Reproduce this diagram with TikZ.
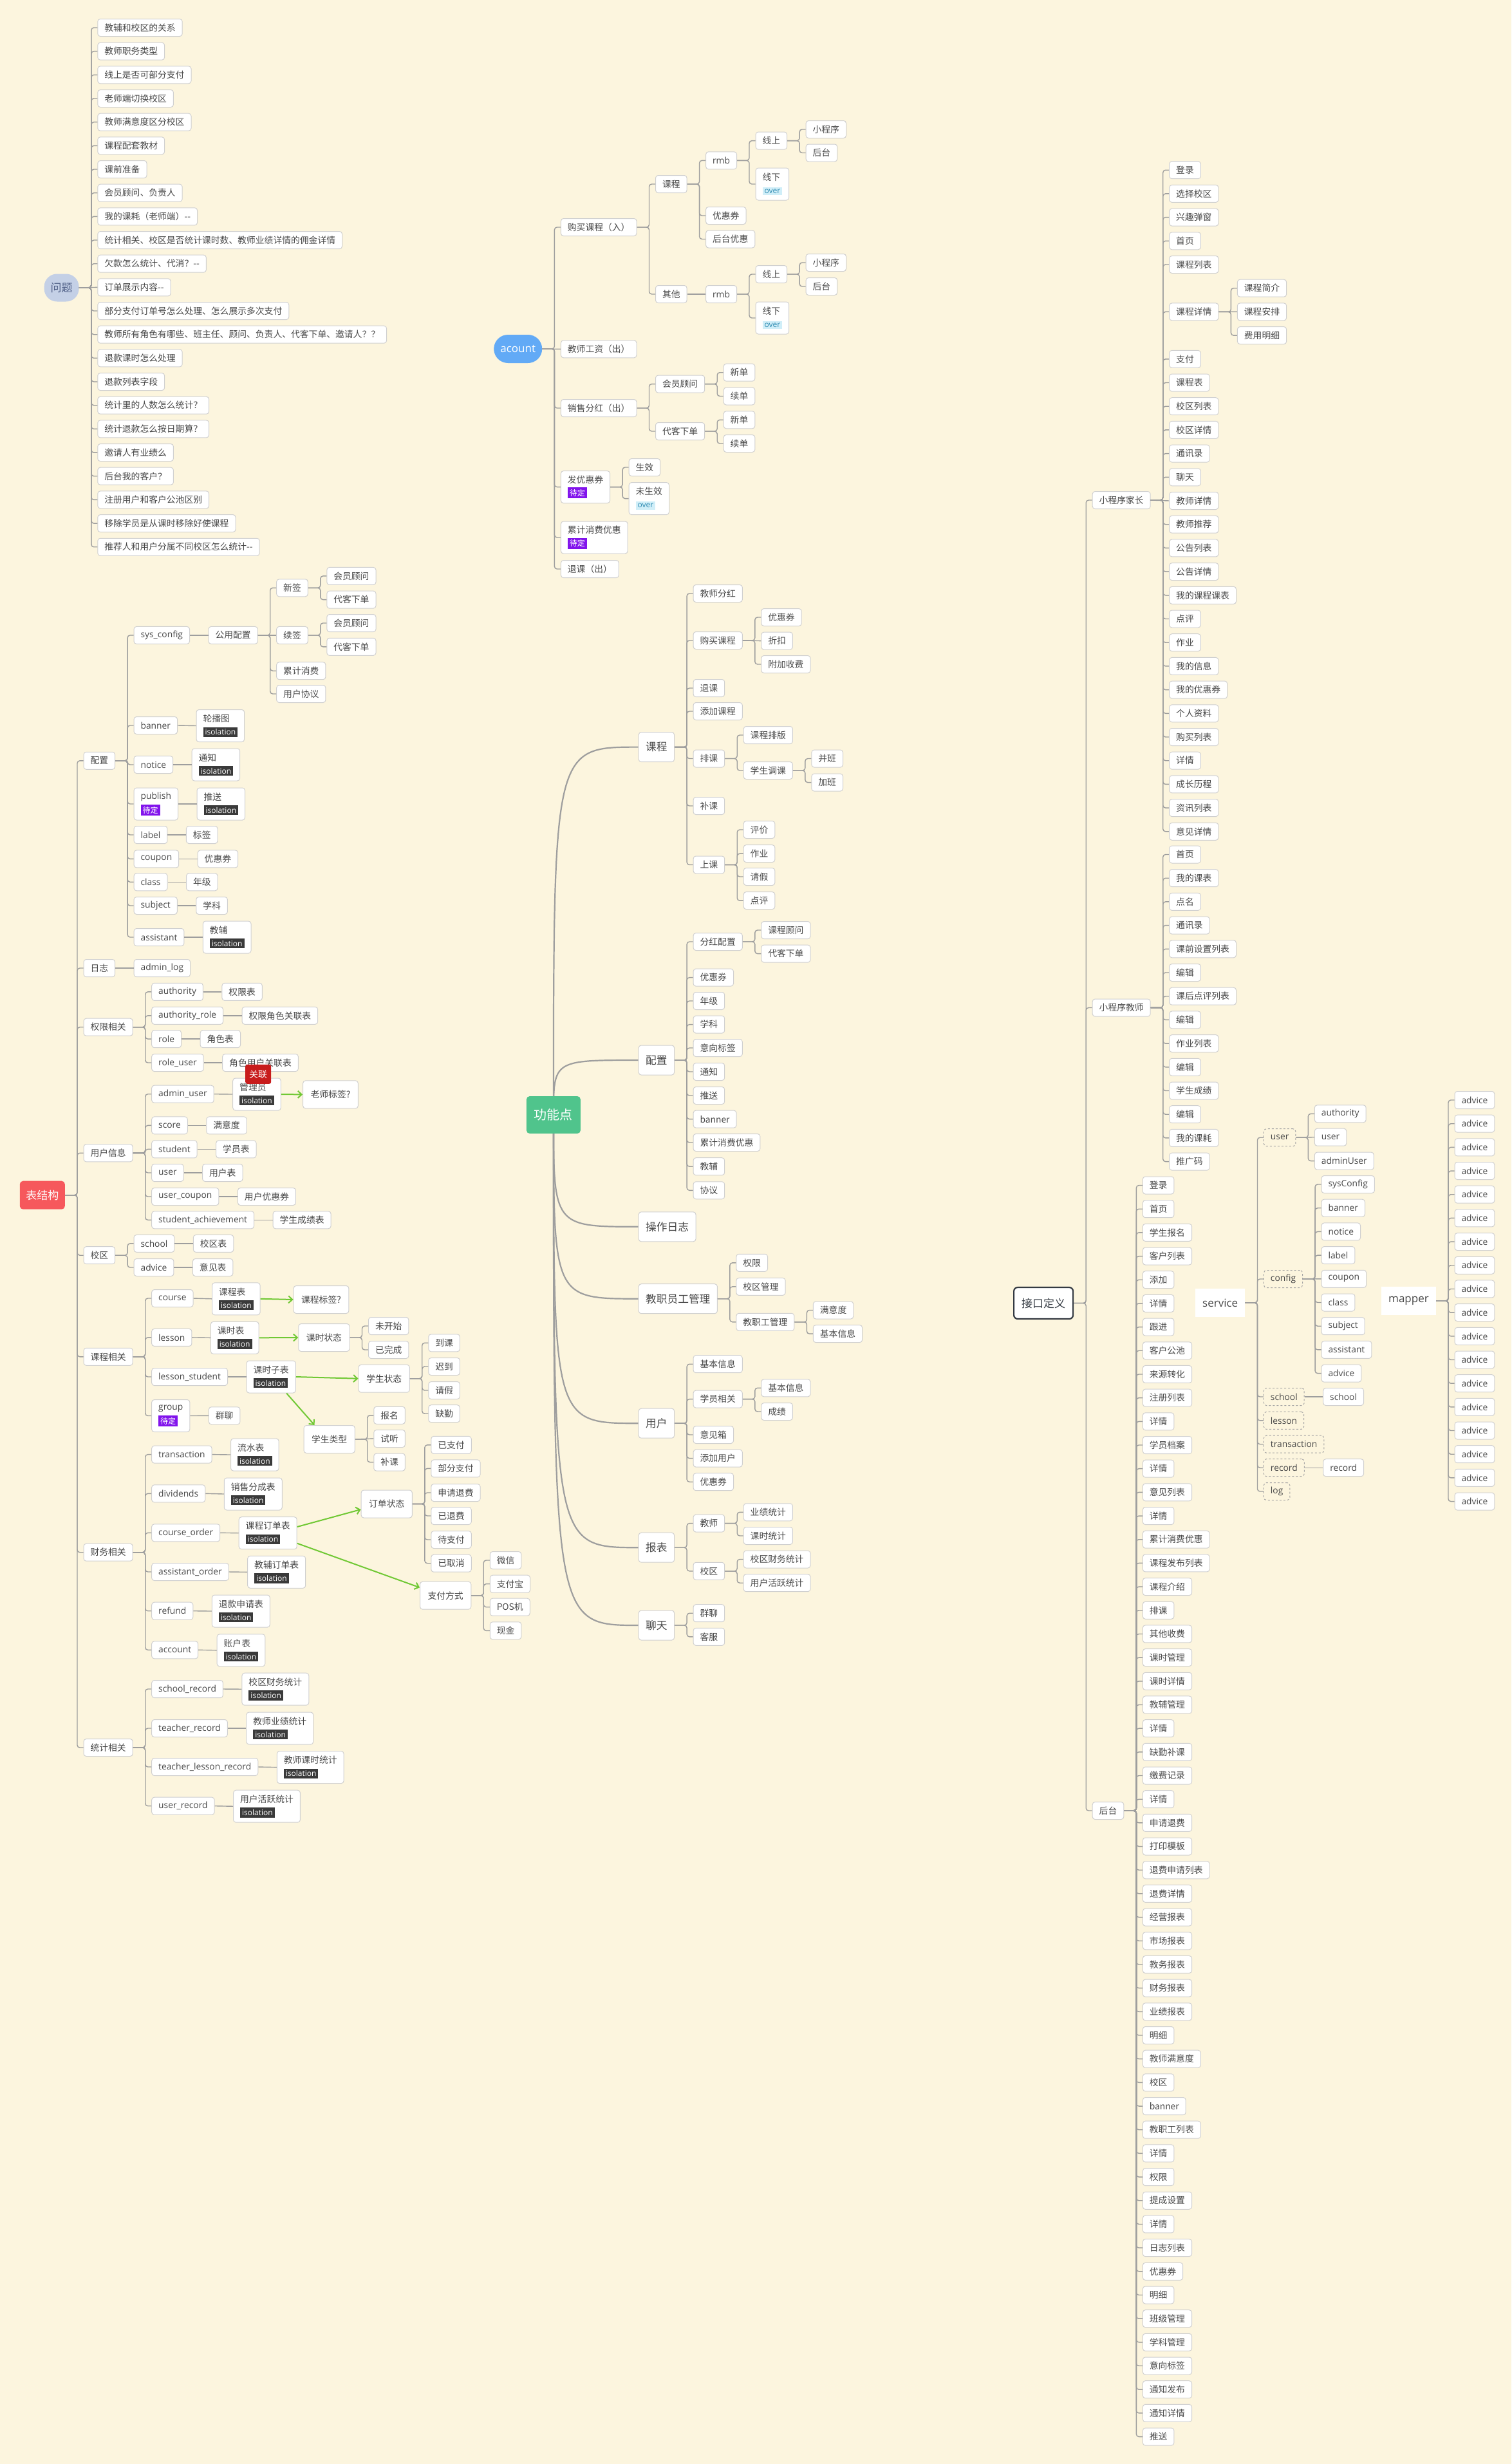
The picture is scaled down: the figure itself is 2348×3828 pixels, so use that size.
\documentclass[tikz,border=0pt]{standalone}
\usepackage{fontspec}
\newfontfamily\cjk{Noto Sans CJK SC}
\newfontfamily\lat{Open Sans}
\usetikzlibrary{arrows.meta}
\pgfdeclarelayer{background}
\pgfsetlayers{background,main}
\definecolor{bgc}{RGB}{252,245,222}
\definecolor{bordc}{RGB}{208,208,208}
\definecolor{linec}{RGB}{158,158,158}
\definecolor{textc}{RGB}{72,72,72}
\definecolor{qfill}{RGB}{196,208,230}
\definecolor{qtext}{RGB}{80,96,135}
\definecolor{acblue}{RGB}{98,170,246}
\definecolor{gdgreen}{RGB}{80,196,140}
\definecolor{tred}{RGB}{246,88,92}
\definecolor{isodark}{RGB}{58,58,58}
\definecolor{tagpurple}{RGB}{130,20,236}
\definecolor{overbg}{RGB}{208,238,248}
\definecolor{overtext}{RGB}{48,140,178}
\definecolor{arrgreen}{RGB}{112,200,52}
\definecolor{relred}{RGB}{200,28,28}
\definecolor{jdark}{RGB}{52,58,66}
\definecolor{dashc}{RGB}{165,165,165}
\newcommand\isotag{{\setlength{\fboxsep}{3pt}\colorbox{isodark}{\lat\fontsize{12}{13}\selectfont\textcolor{white}{isolation}}}}
\newcommand\pendtag{{\setlength{\fboxsep}{3pt}\colorbox{tagpurple}{\cjk\fontsize{12}{13}\selectfont\textcolor{white}{待定}}}}
\newcommand\overtag{{\setlength{\fboxsep}{3pt}\colorbox{overbg}{\lat\fontsize{12}{13}\selectfont\textcolor{overtext}{over}}}}
\newcommand\lk[2]{%
  \path (#1.east); \pgfgetlastxy{\lkpx}{\lkpy}%
  \path (#2.west); \pgfgetlastxy{\lkcx}{\lkcy}%
  \pgfmathsetmacro\lkd{abs((\lkpy)-(\lkcy))}%
  \ifdim\lkd pt<2.5pt
    \draw[conn] (#1.east) -- (#2.west);
  \else
    \draw[conn] (#2.west) -- ++(-9.5,0) |- (#1.east);
  \fi}
\newcommand\rn[6][]{%
  \path (#2.east); \pgfgetlastxy{\rnx}{\rny}%
  \node[nbox,#1] (#3) at ({\rnx+#4pt},{-(#5)*1pt}) {#6};}
\newcommand\ch[5][]{\rn[#1]{#2}{#3}{28.5}{#4}{#5}\lk{#2}{#3}}
\begin{document}
\begin{tikzpicture}[x=1pt,y=-1pt,
  nbox/.style={draw=bordc, line width=1pt, fill=white, rounded corners=4pt, text=textc,
    font=\cjk\fontsize{13.8}{16}\selectfont, inner xsep=10.5pt, inner ysep=0pt,
    minimum height=27pt, anchor=west},
  latf/.style={font=\lat\fontsize{13.8}{16}\selectfont},
  tw/.style={align=left, inner ysep=4pt, minimum height=50pt},
  tall/.style={minimum height=43pt, inner xsep=12pt},
  big/.style={nbox, font=\cjk\fontsize{16.7}{20}\selectfont, minimum height=46pt, inner xsep=11pt},
  dbox/.style={dashed, draw=dashc, fill=none},
  conn/.style={draw=linec, line width=1.4pt, rounded corners=4pt},
  fcurve/.style={draw=linec, line width=2.2pt},
  garrow/.style={draw=arrgreen, line width=2pt, -{Straight Barb[length=6pt,width=11pt]}},
  qmain/.style={fill=qfill, text=qtext, rounded corners=20pt, minimum width=54pt, minimum height=43pt,
    font=\cjk\fontsize{17}{20}\selectfont, inner sep=0pt, anchor=west},
  amain/.style={fill=acblue, text=white, rounded corners=22pt, minimum width=75pt, minimum height=44pt,
    font=\lat\fontsize{17}{20}\selectfont, inner sep=0pt, anchor=west},
  gmain/.style={fill=gdgreen, text=white, rounded corners=5pt, minimum width=84pt, minimum height=58pt,
    font=\cjk\fontsize{20}{24}\selectfont, inner sep=0pt, anchor=west},
  tmain/.style={fill=tred, text=white, rounded corners=5pt, minimum width=70pt, minimum height=44pt,
    font=\cjk\fontsize{17}{20}\selectfont, inner sep=0pt, anchor=west},
  jmain/.style={fill=white, draw=jdark, line width=2.2pt, text=jdark, rounded corners=6pt, minimum width=92pt,
    minimum height=49pt, font=\cjk\fontsize{17}{20}\selectfont, inner sep=0pt, anchor=west},
  flt/.style={fill=white, text=textc, font=\lat\fontsize{17}{20}\selectfont, inner xsep=11pt, inner ysep=0pt,
    minimum height=44.5pt, anchor=west},
  relt/.style={fill=relred, text=white, rounded corners=3pt, font=\cjk\fontsize{14}{14}\selectfont,
    minimum width=40pt, minimum height=30pt, inner sep=0pt}
]
\useasboundingbox (0,0) rectangle (2348,3828);
\begin{pgfonlayer}{background}
\fill[bgc] (0,0) rectangle (2348,3828);
\end{pgfonlayer}

% ===== 问题 =====
\node[qmain] (q0) at (68.4,447) {问题};
\foreach \t [count=\i] in {教辅和校区的关系,教师职务类型,线上是否可部分支付,老师端切换校区,教师满意度区分校区,课程配套教材,课前准备,会员顾问、负责人,我的课耗（老师端）-{}-,统计相关、校区是否统计课时数、教师业绩详情的佣金详情,欠款怎么统计、代消？-{}-,订单展示内容-{}-,部分支付订单号怎么处理、怎么展示多次支付,教师所有角色有哪些、班主任、顾问、负责人、代客下单、邀请人？？,退款课时怎么处理,退款列表字段,统计里的人数怎么统计？,统计退款怎么按日期算？,邀请人有业绩么,后台我的客户？,注册用户和客户公池区别,移除学员是从课时移除好使课程,推荐人和用户分属不同校区怎么统计-{}-}{
  \pgfmathsetmacro\yy{43+(\i-1)*36.67}
  \ch{q0}{q\i}{\yy}{\t}
}

% ===== acount =====
\node[amain] (a0) at (767,542) {acount};
\ch{a0}{a1}{353}{购买课程（入）}
\ch{a0}{a2}{542.3}{教师工资（出）}
\ch{a0}{a3}{634}{销售分红（出）}
\ch[tw]{a0}{a4}{756.6}{发优惠券\\[4pt]\pendtag}
\ch[tw]{a0}{a5}{835}{累计消费优惠\\[4pt]\pendtag}
\ch{a0}{a6}{884}{退课（出）}
\ch{a1}{a11}{286}{课程}
\ch{a1}{a12}{457}{其他}
\ch[latf]{a11}{a111}{249.3}{rmb}
\ch{a11}{a112}{335}{优惠券}
\ch{a11}{a113}{371.5}{后台优惠}
\ch{a111}{a1111}{218.6}{线上}
\ch[tw]{a111}{a1112}{286}{线下\\[4pt]\overtag}
\ch{a1111}{a11111}{201}{小程序}
\ch{a1111}{a11112}{237.5}{后台}
\ch[latf]{a12}{a121}{457}{rmb}
\ch{a121}{a1211}{426}{线上}
\ch[tw]{a121}{a1212}{494}{线下\\[4pt]\overtag}
\ch{a1211}{a12111}{408}{小程序}
\ch{a1211}{a12112}{445}{后台}
\ch{a3}{a31}{596.6}{会员顾问}
\ch{a3}{a32}{670}{代客下单}
\ch{a31}{a311}{578.7}{新单}
\ch{a31}{a312}{615.5}{续单}
\ch{a32}{a321}{652.3}{新单}
\ch{a32}{a322}{689}{续单}
\ch{a4}{a41}{726}{生效}
\ch[tw]{a4}{a42}{774.6}{未生效\\[4pt]\overtag}

% ===== 接口定义 =====
\node[jmain] (j0) at (1574,2024.5) {接口定义};
\ch{j0}{j1}{777}{小程序家长}
\ch{j0}{j2}{1565.5}{小程序教师}
\ch{j0}{j3}{2813}{后台}
\foreach \k/\t in {0/登录,1/选择校区,2/兴趣弹窗,3/首页,4/课程列表,6/课程详情,8/支付,9/课程表,10/校区列表,11/校区详情,12/通讯录,13/聊天,14/教师详情,15/教师推荐,16/公告列表,17/公告详情,18/我的课程课表,19/点评,20/作业,21/我的信息,22/我的优惠券,23/个人资料,24/购买列表,25/详情,26/成长历程,27/资讯列表,28/意见详情}{
  \pgfmathsetmacro\yy{264.2+\k*36.7}
  \ch{j1}{ja\k}{\yy}{\t}
}
\ch{ja6}{jb1}{447.7}{课程简介}
\ch{ja6}{jb2}{484.4}{课程安排}
\ch{ja6}{jb3}{521.1}{费用明细}
\foreach \t [count=\i from 0] in {首页,我的课表,点名,通讯录,课前设置列表,编辑,课后点评列表,编辑,作业列表,编辑,学生成绩,编辑,我的课耗,推广码}{
  \pgfmathsetmacro\yy{1327.5+\i*36.7}
  \ch{j2}{jc\i}{\yy}{\t}
}
\foreach \t [count=\i from 0] in {登录,首页,学生报名,客户列表,添加,详情,跟进,客户公池,来源转化,注册列表,详情,学员档案,详情,意见列表,详情,累计消费优惠,课程发布列表,课程介绍,排课,其他收费,课时管理,课时详情,教辅管理,详情,缺勤补课,缴费记录,详情,申请退费,打印模板,退费申请列表,退费详情,经营报表,市场报表,教务报表,财务报表,业绩报表,明细,教师满意度,校区,banner,教职工列表,详情,权限,提成设置,详情,日志列表,优惠券,明细,班级管理,学科管理,意向标签,通知发布,通知详情,推送}{
  \pgfmathsetmacro\yy{1841.5+\i*36.68}
  \ch{j3}{jd\i}{\yy}{\t}
}

% ===== service =====
\node[flt] (sv) at (1857,2024) {service};
\ch[latf,dbox]{sv}{s1}{1767.2}{user}
\ch[latf,dbox]{sv}{s2}{1987}{config}
\ch[latf,dbox]{sv}{s3}{2170}{school}
\ch[latf,dbox]{sv}{s4}{2206.9}{lesson}
\ch[latf,dbox]{sv}{s5}{2243.7}{transaction}
\ch[latf,dbox]{sv}{s6}{2280.2}{record}
\ch[latf,dbox]{sv}{s7}{2317}{log}
\ch[latf]{s1}{s11}{1730.3}{authority}
\ch[latf]{s1}{s12}{1766.7}{user}
\ch[latf]{s1}{s13}{1803.6}{adminUser}
\foreach \t [count=\i from 0] in {sysConfig,banner,notice,label,coupon,class,subject,assistant,advice}{
  \pgfmathsetmacro\yy{1840+\i*36.7}
  \ch[latf]{s2}{s2\i}{\yy}{\t}
}
\ch[latf]{s3}{s31}{2170}{school}
\ch[latf]{s6}{s61}{2280.2}{record}

% ===== mapper =====
\node[flt] (mp) at (2146,2021) {mapper};
\foreach \i in {0,...,17}{
  \pgfmathsetmacro\yy{1709+\i*36.68}
  \ch[latf]{mp}{m\i}{\yy}{advice}
}

% ===== 功能点 =====
\node[gmain] (g0) at (817.7,1732) {功能点};
\node[big] (g1) at (991.7,1160.6) {课程};
\node[big] (g2) at (991.7,1647) {配置};
\node[big] (g3) at (991.7,1905.8) {操作日志};
\node[big] (g4) at (991.7,2017.7) {教职员工管理};
\node[big] (g5) at (991.7,2211.2) {用户};
\node[big] (g6) at (991.7,2404.2) {报表};
\node[big] (g7) at (991.7,2525) {聊天};
\begin{pgfonlayer}{background}
\draw[fcurve] (g0.center) .. controls (g0.center |- g1.west) .. (g1.west);
\draw[fcurve] (g0.center) .. controls (g0.center |- g2.west) .. (g2.west);
\draw[fcurve] (g0.center) .. controls (g0.center |- g3.west) .. (g3.west);
\draw[fcurve] (g0.center) .. controls (g0.center |- g4.west) .. (g4.west);
\draw[fcurve] (g0.center) .. controls (g0.center |- g5.west) .. (g5.west);
\draw[fcurve] (g0.center) .. controls (g0.center |- g6.west) .. (g6.west);
\draw[fcurve] (g0.center) .. controls (g0.center |- g7.west) .. (g7.west);
\end{pgfonlayer}
\ch{g1}{g11}{922}{教师分红}
\ch{g1}{g12}{995}{购买课程}
\ch{g1}{g13}{1069}{退课}
\ch{g1}{g14}{1105}{添加课程}
\ch{g1}{g15}{1178.5}{排课}
\ch{g1}{g16}{1252}{补课}
\ch{g1}{g17}{1343.5}{上课}
\ch{g12}{g121}{959}{优惠券}
\ch{g12}{g122}{995.6}{折扣}
\ch{g12}{g123}{1032}{附加收费}
\ch{g15}{g151}{1142}{课程排版}
\ch{g15}{g152}{1197}{学生调课}
\ch{g152}{g1521}{1178.5}{并班}
\ch{g152}{g1522}{1215.6}{加班}
\ch{g17}{g171}{1289}{评价}
\ch{g17}{g172}{1326.1}{作业}
\ch{g17}{g173}{1362}{请假}
\ch{g17}{g174}{1399.1}{点评}
\ch{g2}{g21}{1463}{分红配置}
\ch{g2}{g22}{1518.6}{优惠券}
\ch{g2}{g23}{1555}{年级}
\ch{g2}{g24}{1591.6}{学科}
\ch{g2}{g25}{1628}{意向标签}
\ch{g2}{g26}{1665}{通知}
\ch{g2}{g27}{1702}{推送}
\ch{g2}{g28}{1738.6}{banner}
\ch{g2}{g29}{1775}{累计消费优惠}
\ch{g2}{g2a}{1812.2}{教辅}
\ch{g2}{g2b}{1849.3}{协议}
\ch{g21}{g211}{1445}{课程顾问}
\ch{g21}{g212}{1481.6}{代客下单}
\ch{g4}{g41}{1961.8}{权限}
\ch{g4}{g42}{1998.9}{校区管理}
\ch{g4}{g43}{2053.8}{教职工管理}
\ch{g43}{g431}{2035.5}{满意度}
\ch{g43}{g432}{2072.1}{基本信息}
\ch{g5}{g51}{2119.2}{基本信息}
\ch{g5}{g52}{2173.6}{学员相关}
\ch{g5}{g53}{2229}{意见箱}
\ch{g5}{g54}{2265.6}{添加用户}
\ch{g5}{g55}{2302.2}{优惠券}
\ch{g52}{g521}{2156.3}{基本信息}
\ch{g52}{g522}{2193}{成绩}
\ch{g6}{g61}{2366.6}{教师}
\ch{g6}{g62}{2440.8}{校区}
\ch{g61}{g611}{2349.3}{业绩统计}
\ch{g61}{g612}{2386}{课时统计}
\ch{g62}{g621}{2422.5}{校区财务统计}
\ch{g62}{g622}{2459.2}{用户活跃统计}
\ch{g7}{g71}{2506.2}{群聊}
\ch{g7}{g72}{2542.8}{客服}

% ===== 表结构 =====
\node[tmain] (t0) at (30.6,1856.7) {表结构};
\ch{t0}{t1}{1181.8}{配置}
\ch{t0}{t2}{1504}{日志}
\ch{t0}{t3}{1595.7}{权限相关}
\ch{t0}{t4}{1791.3}{用户信息}
\ch{t0}{t5}{1950.2}{校区}
\ch{t0}{t6}{2107.8}{课程相关}
\ch{t0}{t7}{2411.7}{财务相关}
\ch{t0}{t8}{2715}{统计相关}
% 配置
\ch[latf]{t1}{t11}{986.9}{sys\_config}
\ch[latf]{t1}{t12}{1127}{banner}
\ch[latf]{t1}{t13}{1188}{notice}
\ch[latf,tw]{t1}{t14}{1249}{publish\\[4pt]\pendtag}
\ch[latf]{t1}{t15}{1297}{label}
\ch[latf]{t1}{t16}{1334.4}{coupon}
\ch[latf]{t1}{t17}{1370.3}{class}
\ch[latf]{t1}{t18}{1407}{subject}
\ch[latf]{t1}{t19}{1456}{assistant}
\ch{t11}{t111}{986.9}{公用配置}
\ch{t111}{t1111}{913.3}{新签}
\ch{t111}{t1112}{986.9}{续签}
\ch{t111}{t1113}{1042.2}{累计消费}
\ch{t111}{t1114}{1078}{用户协议}
\ch{t1111}{t11111}{894.9}{会员顾问}
\ch{t1111}{t11112}{931.6}{代客下单}
\ch{t1112}{t11121}{968}{会员顾问}
\ch{t1112}{t11122}{1004.8}{代客下单}
\ch[tw]{t12}{t121}{1127.5}{轮播图\\[4pt]\isotag}
\ch[tw]{t13}{t131}{1188}{通知\\[4pt]\isotag}
\ch[tw]{t14}{t141}{1249}{推送\\[4pt]\isotag}
\ch{t15}{t151}{1297}{标签}
\ch{t16}{t161}{1334.4}{优惠券}
\ch{t17}{t171}{1370.3}{年级}
\ch{t18}{t181}{1407}{学科}
\ch[tw]{t19}{t191}{1456}{教辅\\[4pt]\isotag}
% 日志
\ch[latf]{t2}{t21}{1504}{admin\_log}
% 权限相关
\ch[latf]{t3}{t31}{1540.9}{authority}
\ch[latf]{t3}{t32}{1577.8}{authority\_role}
\ch[latf]{t3}{t33}{1614.1}{role}
\ch[latf]{t3}{t34}{1651}{role\_user}
\ch{t31}{t311}{1540.9}{权限表}
\ch{t32}{t321}{1577.8}{权限角色关联表}
\ch{t33}{t331}{1614.1}{角色表}
\ch{t34}{t341}{1651}{角色用户关联表}
% 用户信息
\ch[latf]{t4}{t41}{1699.7}{admin\_user}
\ch[latf]{t4}{t42}{1748.4}{score}
\ch[latf]{t4}{t43}{1785.4}{student}
\ch[latf]{t4}{t44}{1822}{user}
\ch[latf]{t4}{t45}{1859}{user\_coupon}
\ch[latf]{t4}{t46}{1895.3}{student\_achievement}
\ch[tw]{t41}{t411}{1700}{管理员\\[4pt]\isotag}
\rn[tall]{t411}{t4111}{33.3}{1700.4}{老师标签?}
\draw[garrow] (t411.east) -- (t4111.west);
\node[relt] (gl) at ([xshift=40pt,yshift=5.7pt]t411.north west) {关联};
\ch{t42}{t421}{1748.4}{满意度}
\ch{t43}{t431}{1785.4}{学员表}
\ch{t44}{t441}{1822}{用户表}
\ch{t45}{t451}{1859}{用户优惠券}
\ch{t46}{t461}{1895.3}{学生成绩表}
% 校区
\ch[latf]{t5}{t51}{1931.9}{school}
\ch[latf]{t5}{t52}{1969}{advice}
\ch{t51}{t511}{1931.9}{校区表}
\ch{t52}{t521}{1969}{意见表}
% 课程相关
\ch[latf]{t6}{t61}{2017}{course}
\ch[latf]{t6}{t62}{2077.9}{lesson}
\ch[latf]{t6}{t63}{2139}{lesson\_student}
\ch[latf,tw]{t6}{t64}{2199.5}{group\\[4pt]\pendtag}
\ch[tw]{t61}{t611}{2017.8}{课程表\\[4pt]\isotag}
\rn[tall]{t611}{t6111}{51}{2019}{课程标签?}
\draw[garrow] (t611.east) -- (t6111.west);
\ch[tw]{t62}{t621}{2078.3}{课时表\\[4pt]\isotag}
\rn[tall]{t621}{t6211}{60.8}{2078}{课时状态}
\draw[garrow] (t621.east) -- (t6211.west);
\ch{t6211}{t62111}{2060}{未开始}
\ch{t6211}{t62112}{2097}{已完成}
\ch[tw]{t63}{t631}{2139}{课时子表\\[4pt]\isotag}
\rn[tall]{t631}{t6311}{96.8}{2141.7}{学生状态}
\draw[garrow] (t631.east) -- (t6311.west);
\ch{t6311}{t63111}{2086.3}{到课}
\ch{t6311}{t63112}{2123}{迟到}
\ch{t6311}{t63113}{2160}{请假}
\ch{t6311}{t63114}{2196.2}{缺勤}
\rn[tall]{t631}{t6312}{11.8}{2236}{学生类型}
\draw[garrow] ([xshift=24pt]t631.south) -- ([xshift=-23pt]t6312.north);
\ch{t6312}{t63121}{2198.8}{报名}
\ch{t6312}{t63122}{2235}{试听}
\ch{t6312}{t63123}{2271.6}{补课}
\ch{t64}{t641}{2199.3}{群聊}
% 财务相关
\ch[latf]{t7}{t71}{2259.6}{transaction}
\ch[latf]{t7}{t72}{2320.3}{dividends}
\ch[latf]{t7}{t73}{2381.3}{course\_order}
\ch[latf]{t7}{t74}{2442}{assistant\_order}
\ch[latf]{t7}{t75}{2502.7}{refund}
\ch[latf]{t7}{t76}{2563.3}{account}
\ch[tw]{t71}{t711}{2260}{流水表\\[4pt]\isotag}
\ch[tw]{t72}{t721}{2321}{销售分成表\\[4pt]\isotag}
\ch[tw]{t73}{t731}{2381.7}{课程订单表\\[4pt]\isotag}
\ch[tw]{t74}{t741}{2442.3}{教辅订单表\\[4pt]\isotag}
\ch[tw]{t75}{t751}{2503}{退款申请表\\[4pt]\isotag}
\ch[tw]{t76}{t761}{2563.8}{账户表\\[4pt]\isotag}
\rn[tall]{t731}{ddzt}{98.9}{2336.5}{订单状态}
\draw[garrow] ([yshift=9.7pt]t731.east) -- ([yshift=-8.5pt]ddzt.west);
\ch{ddzt}{dd1}{2244.8}{已支付}
\ch{ddzt}{dd2}{2281.4}{部分支付}
\ch{ddzt}{dd3}{2319}{申请退费}
\ch{ddzt}{dd4}{2355}{已退费}
\ch{ddzt}{dd5}{2392}{待支付}
\ch{ddzt}{dd6}{2428.7}{已取消}
\rn[tall]{t731}{zffs}{190.3}{2478.7}{支付方式}
\draw[garrow] ([yshift=-16pt]t731.east) -- ([yshift=12.4pt]zffs.west);
\ch{zffs}{zf1}{2424}{微信}
\ch{zffs}{zf2}{2460.7}{支付宝}
\ch{zffs}{zf3}{2496.7}{POS机}
\ch{zffs}{zf4}{2533.3}{现金}
% 统计相关
\ch[latf]{t8}{t81}{2624}{school\_record}
\ch[latf]{t8}{t82}{2685}{teacher\_record}
\ch[latf]{t8}{t83}{2745}{teacher\_lesson\_record}
\ch[latf]{t8}{t84}{2805.7}{user\_record}
\ch[tw]{t81}{t811}{2624.2}{校区财务统计\\[4pt]\isotag}
\ch[tw]{t82}{t821}{2685}{教师业绩统计\\[4pt]\isotag}
\ch[tw]{t83}{t831}{2745.6}{教师课时统计\\[4pt]\isotag}
\ch[tw]{t84}{t841}{2806.2}{用户活跃统计\\[4pt]\isotag}
\end{tikzpicture}
\end{document}
